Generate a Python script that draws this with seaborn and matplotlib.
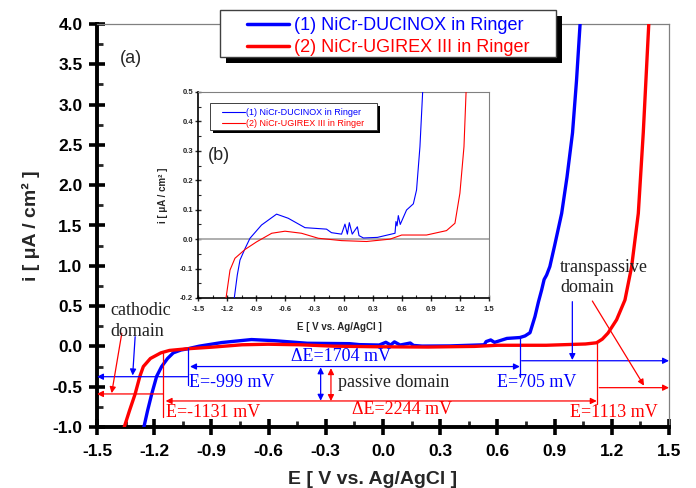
import matplotlib
matplotlib.use("Agg")
import matplotlib.pyplot as plt
import seaborn as sns
from matplotlib.patches import Rectangle
from matplotlib.transforms import IdentityTransform
from matplotlib.ticker import MultipleLocator
from matplotlib.lines import Line2D

# ---------------- data ----------------
series_labels = ["(1) NiCr-DUCINOX in Ringer", "(2) NiCr-UGIREX III in Ringer"]
series_colors = ["#0000FF", "#FF0000"]

# main panel (a)
blue_E = [-1.254, -1.235, -1.213, -1.187, -1.161, -1.13, -1.10, -1.06, -1.025, -0.964,
          -0.845, -0.69, -0.57, -0.397, -0.175, -0.124, -0.02, 0.015, 0.04, 0.06,
          0.09, 0.143, 0.16, 0.205, 0.35, 0.531, 0.541, 0.565, 0.585, 0.65,
          0.718, 0.745, 0.771, 0.797, 0.815, 0.832, 0.845, 0.858, 0.875, 0.90,
          0.937, 0.965, 0.994, 1.015, 1.035]
blue_i = [-1.0, -0.80, -0.59, -0.37, -0.25, -0.15, -0.08, -0.045, -0.03, 0.003,
          0.048, 0.085, 0.071, 0.039, 0.034, 0.022, 0.017, 0.051, 0.017, 0.056,
          0.017, 0.042, 0.012, 0.004, 0.006, 0.02, 0.06, 0.08, 0.05, 0.099,
          0.11, 0.13, 0.17, 0.37, 0.55, 0.70, 0.83, 0.885, 0.99, 1.25,
          1.65, 2.1, 2.65, 3.3, 4.05]
red_E = [-1.357, -1.33, -1.30, -1.275, -1.257, -1.22, -1.165, -1.12, -1.03, -0.895,
         -0.74, -0.603, -0.433, -0.26, -0.02, 0.237, 0.48, 0.6, 0.856, 1.062,
         1.12, 1.15, 1.18, 1.225, 1.269, 1.304, 1.339, 1.365, 1.395]
red_i = [-1.0, -0.80, -0.59, -0.37, -0.25, -0.15, -0.08, -0.05, -0.03, -0.009,
         0.02, 0.027, 0.02, 0.003, -0.005, -0.008, 0.0, 0.014, 0.014, 0.03,
         0.045, 0.09, 0.165, 0.33, 0.576, 0.99, 1.65, 2.65, 4.05]

# inset panel (b)
inset_blue_E = [-1.14, -1.126, -1.095, -1.067, -1.015, -0.964, -0.845, -0.69, -0.57, -0.397,
                -0.175, -0.124, -0.02, 0.015, 0.04, 0.06, 0.09, 0.143, 0.16, 0.205,
                0.35, 0.531, 0.541, 0.552, 0.565, 0.585, 0.65, 0.72, 0.753, 0.788,
                0.816, 0.825]
inset_blue_i = [-0.26, -0.2, -0.122, -0.071, -0.032, 0.003, 0.048, 0.085, 0.071, 0.039,
                0.034, 0.022, 0.017, 0.051, 0.017, 0.056, 0.017, 0.042, 0.012, 0.004,
                0.006, 0.02, 0.06, 0.045, 0.08, 0.05, 0.099, 0.12, 0.167, 0.314,
                0.5, 0.56]
inset_red_E = [-1.22, -1.211, -1.17, -1.119, -1.015, -0.895, -0.74, -0.603, -0.433, -0.26,
               -0.02, 0.237, 0.48, 0.6, 0.856, 1.062, 1.149, 1.2, 1.242, 1.263, 1.27]
inset_red_i = [-0.23, -0.2, -0.105, -0.065, -0.035, -0.009, 0.02, 0.027, 0.02, 0.003,
               -0.005, -0.008, 0.0, 0.014, 0.014, 0.029, 0.054, 0.156, 0.314, 0.495, 0.56]

x_ticks = [-1.5, -1.2, -0.9, -0.6, -0.3, 0.0, 0.3, 0.6, 0.9, 1.2, 1.5]
y_ticks_main = [-1.0, -0.5, 0.0, 0.5, 1.0, 1.5, 2.0, 2.5, 3.0, 3.5, 4.0]
y_ticks_inset = [-0.2, -0.1, 0.0, 0.1, 0.2, 0.3, 0.4, 0.5]

# ---------------- style ----------------
sns.set_style("ticks")
plt.rcParams['font.family'] = ['Liberation Sans', 'DejaVu Sans']
SERIF = ['Liberation Serif', 'DejaVu Serif']

W, H = 696, 488
fig = plt.figure(figsize=(W / 100, H / 100), dpi=100)
fig.patch.set_facecolor('white')


def px_axes(x0, y0, x1, y1):
    return [x0 / W, 1 - y1 / H, (x1 - x0) / W, (y1 - y0) / H]


ax = fig.add_axes(px_axes(97, 24, 669, 427))
axin = fig.add_axes(px_axes(198, 92, 489, 298))

# ---------------- main curves ----------------
sns.lineplot(x=blue_E, y=blue_i, ax=ax, color=series_colors[0], lw=2.4,
             sort=False, estimator=None, legend=False, zorder=3)
sns.lineplot(x=red_E, y=red_i, ax=ax, color=series_colors[1], lw=2.4,
             sort=False, estimator=None, legend=False, zorder=3)

ax.set_xlim(-1.5, 1.5)
ax.set_ylim(-1.0, 4.0)
ax.set_xticks(x_ticks)
ax.set_xticklabels([f"{v:.1f}" for v in x_ticks], fontweight='bold', fontsize=12.5)
ax.set_yticks(y_ticks_main)
ax.set_yticklabels([f"{v:.1f}" for v in y_ticks_main], fontweight='bold', fontsize=12.5)
ax.xaxis.set_minor_locator(MultipleLocator(0.15))
ax.yaxis.set_minor_locator(MultipleLocator(0.25))
ax.tick_params(which='major', direction='inout', length=11, width=2.6,
               top=False, right=False, colors='black')
ax.tick_params(axis='x', which='major', pad=7)
ax.tick_params(axis='y', which='major', pad=5)
ax.tick_params(which='minor', direction='in', length=4, width=2,
               top=False, right=False)
for s in ['left', 'bottom']:
    ax.spines[s].set_linewidth(2.8)
    ax.spines[s].set_color('black')
for s in ['top', 'right']:
    ax.spines[s].set_linewidth(0.9)
    ax.spines[s].set_color('#808080')
ax.set_xlabel("E [ V vs. Ag/AgCl ]", fontsize=14, fontweight='bold')
ax.set_ylabel("i [ μA / cm² ]", fontsize=14, fontweight='bold')
ax.xaxis.set_label_coords(0.4816, -0.108)
ax.yaxis.set_label_coords(-0.10, 0.5)

ax.text(-1.379, 3.578, "(a)", fontsize=13, ha='left', va='center')

# ---------------- annotations (main) ----------------
B, R = series_colors


def arrow(tip, tail, c, style='-|>'):
    ax.annotate("", xy=tip, xytext=tail,
                arrowprops=dict(arrowstyle=style, color=c, lw=0.9,
                                mutation_scale=9, shrinkA=0, shrinkB=0),
                zorder=4)


def seg(xs, ys, c):
    ax.plot(xs, ys, color=c, lw=0.9, zorder=4)


# blue
seg([-1.025, -1.025], [-0.02, -0.48], B)
arrow((-1.5, -0.376), (-1.025, -0.376), B)
arrow((-1.313, -0.36), (-1.30, 0.12), B)
arrow((0.718, -0.25), (-1.012, -0.25), B, '<|-|>')
seg([0.718, 0.718], [0.12, -0.376], B)
arrow((1.5, -0.178), (0.727, -0.178), B)
arrow((0.993, -0.169), (0.993, 0.555), B)
arrow((-0.327, -0.674), (-0.327, -0.26), B, '<|-|>')
# red
seg([-1.154, -1.154], [-0.08, -0.88], R)
arrow((-1.5, -0.59), (-1.154, -0.59), R)
arrow((-1.423, -0.58), (-1.37, 0.162), R)
arrow((1.121, -0.677), (-1.14, -0.677), R, '<|-|>')
seg([1.121, 1.121], [0.04, -0.72], R)
arrow((1.5, -0.512), (1.134, -0.512), R)
arrow((1.369, -0.487), (1.098, 0.563), R)
arrow((-0.273, -0.678), (-0.273, -0.27), R, '<|-|>')

tkw = dict(family=SERIF, fontsize=13, va='center', zorder=5)
ax.text(-1.432, 0.315, "cathodic\ndomain", color='#202020', ha='left', linespacing=1.3, **tkw)
ax.text(0.928, 0.855, "transpassive\ndomain", color='#202020', ha='left', linespacing=1.3, **tkw)
ax.text(-1.017, -0.454, "E=-999 mV", color=B, ha='left', **tkw)
ax.text(-1.138, -0.814, "E=-1131 mV", color=R, ha='left', **tkw)
ax.text(-0.220, -0.128, "ΔE=1704 mV", color=B, ha='center', **tkw)
ax.text(-0.236, -0.454, "passive domain", color='#202020', ha='left', **tkw)
ax.text(0.100, -0.789, "ΔE=2244 mV", color=R, ha='center', **tkw)
ax.text(0.596, -0.454, "E=705 mV", color=B, ha='left', **tkw)
ax.text(0.981, -0.826, "E=1113 mV", color=R, ha='left', **tkw)

# ---------------- inset ----------------
axin.set_facecolor('white')
axin.axhline(0, color='#a8a8a8', lw=1.3, zorder=1)
sns.lineplot(x=inset_blue_E, y=inset_blue_i, ax=axin, color=series_colors[0], lw=0.8,
             sort=False, estimator=None, legend=False, zorder=3)
sns.lineplot(x=inset_red_E, y=inset_red_i, ax=axin, color=series_colors[1], lw=0.8,
             sort=False, estimator=None, legend=False, zorder=3)
axin.set_xlim(-1.5, 1.5)
axin.set_ylim(-0.2, 0.5)
axin.set_xticks(x_ticks)
axin.set_xticklabels([f"{v:.1f}" for v in x_ticks], fontweight='bold', fontsize=5.5)
axin.set_yticks(y_ticks_inset)
axin.set_yticklabels([f"{v:.1f}" for v in y_ticks_inset], fontweight='bold', fontsize=5.5)
axin.xaxis.set_minor_locator(MultipleLocator(0.15))
axin.yaxis.set_minor_locator(MultipleLocator(0.05))
axin.tick_params(which='major', direction='inout', length=4, width=1,
                 top=False, right=False)
axin.tick_params(axis='x', which='major', pad=3.5)
axin.tick_params(axis='y', which='major', pad=1.5)
axin.tick_params(which='minor', direction='in', length=2, width=0.8,
                 top=False, right=False)
for s in ['left', 'bottom']:
    axin.spines[s].set_linewidth(1.2)
    axin.spines[s].set_color('black')
for s in ['top', 'right']:
    axin.spines[s].set_linewidth(0.8)
    axin.spines[s].set_color('#808080')
axin.set_xlabel("E [ V vs. Ag/AgCl ]", fontsize=7, fontweight='bold')
axin.set_ylabel("i [ μA / cm² ]", fontsize=7, fontweight='bold')
axin.xaxis.set_label_coords(0.485, -0.115)
axin.yaxis.set_label_coords(-0.103, 0.5)
axin.text(-1.397, 0.283, "(b)", fontsize=13, ha='left', va='center')

# ---------------- legends ----------------
def make_legend(axis, anchor, fs, hl, htp, ls, lw):
    handles = [Line2D([], [], color=c, lw=lw) for c in series_colors]
    return axis.legend(handles, series_labels, loc='upper left',
                       bbox_to_anchor=(anchor[0] / W, 1 - anchor[1] / H),
                       bbox_transform=fig.transFigure, frameon=False,
                       fontsize=fs, handlelength=hl, handletextpad=htp,
                       labelspacing=ls, borderpad=0, borderaxespad=0,
                       labelcolor='linecolor')


leg_main = make_legend(ax, (247, 17), 13, 2.3, 0.3, 0.27, 2.5)
leg_in = make_legend(axin, (222, 108), 6.5, 2.55, 0.15, 0.21, 0.8)

fig.canvas.draw()
renderer = fig.canvas.get_renderer()


def add_frame(axis, leg, pads, shadow, lw):
    bb = leg.get_window_extent(renderer)
    pl, pr, pt, pb = pads
    x0, y0 = bb.x0 - pl, bb.y0 - pb
    w, h = bb.width + pl + pr, bb.height + pt + pb
    sh = Rectangle((x0 + shadow, y0 - shadow), w, h, transform=IdentityTransform(),
                   facecolor='black', edgecolor='none', zorder=4.7)
    fr = Rectangle((x0, y0), w, h, transform=IdentityTransform(),
                   facecolor='white', edgecolor='#404040', lw=lw, zorder=4.8)
    for p in (sh, fr):
        axis.add_artist(p)
        p.set_clip_on(False)


add_frame(ax, leg_main, (27, 27, 7, 1), 6, 1.0)
add_frame(axin, leg_in, (12, 12, 5, 2), 3, 0.7)

fig.savefig("out.png", dpi=100)
